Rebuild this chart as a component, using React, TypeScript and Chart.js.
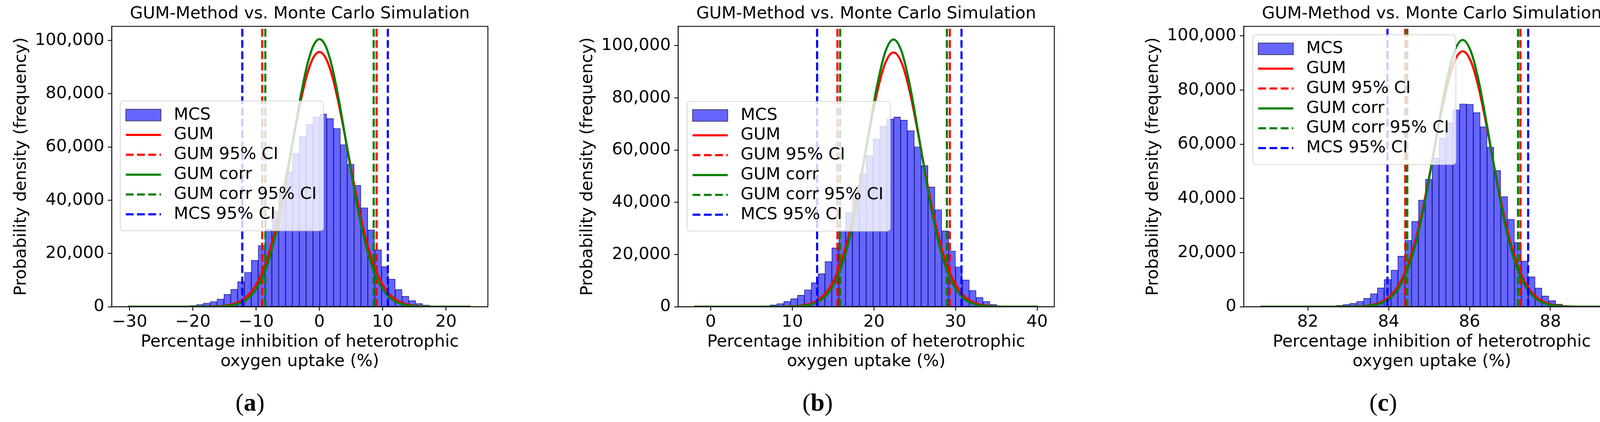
import React, { useEffect, useRef } from 'react';
import { Chart, registerables } from 'chart.js';

Chart.register(...registerables);

const FONT = "'DejaVu Sans', 'Liberation Sans', sans-serif";
const TITLE = 'GUM-Method vs. Monte Carlo Simulation';
const X_LABEL = ['Percentage inhibition of heterotrophic', 'oxygen uptake (%)'];
const Y_LABEL = 'Probability density (frequency)';
const yTicks = [0, 20000, 40000, 60000, 80000, 100000];

// ---- panel (a) ----
const histStartA = -30.27;
const histWidthA = 1.0834;
const countsA = [
  5, 5, 10, 15, 25, 45, 80, 140, 260, 500,
  880, 1390, 1980, 2930, 4680, 6580, 9440, 12950, 17480, 23040,
  29190, 36000, 43200, 50800, 57700, 64000, 68500, 71300, 72400, 70700,
  67000, 60900, 53600, 45600, 37200, 28900, 21400, 15100, 10400, 6510,
  3950, 2340, 1240, 660, 290, 130, 60, 25, 10, 5,
];
const curveXA = [
  -30.27, -24, -20, -18, -16, -14, -13, -12, -11, -10, -9, -8, -7, -6, -5, -4, -3, -2, -1, 0,
  1, 2, 3, 4, 5, 6, 7, 8, 9, 10, 11, 12, 13, 14, 16, 18, 20, 23.9,
];
const gumA = [
  0, 0, 5, 34, 180, 790, 1530, 2820, 4950, 8280, 13200, 20000, 28800, 39700, 51900, 64700, 76800, 86800, 93400, 95700,
  93400, 86800, 76800, 64700, 51900, 39700, 28800, 20000, 13200, 8280, 4950, 2820, 1530, 790, 180, 34, 5, 0,
];
const gumCorrA = [
  0, 0, 0, 15, 90, 480, 1000, 1970, 3700, 6560, 11000, 17500, 26400, 37600, 50800, 64900, 78600, 90100, 97800, 100500,
  97800, 90100, 78600, 64900, 50800, 37600, 26400, 17500, 11000, 6560, 3700, 1970, 1000, 480, 90, 15, 0, 0,
];
const gumCiA = [-9.04, 9.04];
const gumCorrCiA = [-8.55, 8.57];
const mcsCiA = [-12.19, 10.81];
const xLimA = [-32.82, 26.62];
const xTicksA = [-30, -20, -10, 0, 10, 20];
const yMaxA = 105300;

// ---- panel (b) ----
const histStartB = -2.01;
const histWidthB = 0.8424;
const countsB = [
  2, 3, 5, 8, 12, 20, 35, 60, 90, 200,
  420, 720, 1240, 2060, 3090, 4430, 6500, 9280, 12680, 17320,
  22580, 29400, 36100, 43500, 51000, 57900, 64400, 69100, 71900, 72700,
  71500, 67500, 61300, 54100, 45900, 37200, 29100, 21400, 15300, 10300,
  6290, 3610, 2060, 930, 410, 200, 80, 30, 10, 5,
];
const curveXB = [
  -2.01, 6.4, 8.4, 10.4, 11.4, 12.4, 13.4, 14.4, 15.4, 16.4, 17.4, 18.4, 19.4, 20.4, 21.4, 22.4,
  23.4, 24.4, 25.4, 26.4, 27.4, 28.4, 29.4, 30.4, 31.4, 32.4, 33.4, 34.4, 36.4, 40.11,
];
const gumB = [
  0, 0, 25, 220, 590, 1420, 3180, 6520, 12300, 21300, 33900, 49500, 66600, 82300, 93400, 97400,
  93400, 82300, 66600, 49500, 33900, 21300, 12300, 6520, 3180, 1420, 590, 220, 25, 0,
];
const gumCorrB = [
  0, 0, 10, 120, 360, 950, 2320, 5140, 10400, 19000, 31800, 48500, 67200, 84900, 97700, 102400,
  97700, 84900, 67200, 48500, 31800, 19000, 10400, 5140, 2320, 950, 360, 120, 10, 0,
];
const gumCiB = [15.53, 29.3];
const gumCorrCiB = [15.86, 28.94];
const mcsCiB = [13.04, 30.73];
const xLimB = [-3.99, 42.1];
const xTicksB = [0, 10, 20, 30, 40];
const yMaxB = 107400;

// ---- panel (c) ----
const histStartC = 80.83;
const histWidthC = 0.1698;
const countsC = [
  2, 3, 4, 6, 10, 16, 30, 50, 80, 130,
  270, 530, 820, 1300, 2020, 3130, 4810, 6970, 10100, 13560,
  18700, 24470, 31590, 39400, 47100, 54900, 62300, 68000, 72700, 74900,
  74800, 71700, 66500, 58900, 50300, 40700, 32300, 23800, 16900, 11100,
  6950, 4000, 2300, 1000, 500, 200, 80, 30, 10, 5,
];
const curveXC = [
  80.83, 82.23, 82.63, 83.03, 83.43, 83.63, 83.83, 84.03, 84.23, 84.43, 84.63, 84.83, 85.03, 85.23, 85.43, 85.63,
  85.83, 86.03, 86.23, 86.43, 86.63, 86.83, 87.03, 87.23, 87.43, 87.63, 87.83, 88.03, 88.23, 88.63, 89.32,
];
const gumC = [
  0, 0, 0, 40, 320, 800, 1830, 3880, 7580, 13700, 22800, 35200, 50200, 66100, 80600, 90700,
  94300, 90700, 80600, 66100, 50200, 35200, 22800, 13700, 7580, 3880, 1830, 800, 320, 40, 0,
];
const gumCorrC = [
  0, 0, 0, 20, 210, 570, 1390, 3120, 6440, 12200, 21200, 33900, 49800, 67100, 83100, 94400,
  98500, 94400, 83100, 67100, 49800, 33900, 21200, 12200, 6440, 3120, 1390, 570, 210, 20, 0,
];
const gumCiC = [84.41, 87.26];
const gumCorrCiC = [84.46, 87.2];
const mcsCiC = [83.97, 87.45];
const xLimC = [80.415, 89.72];
const xTicksC = [82, 84, 86, 88];
const yMaxC = 103500;

// canvas geometry
const CANVAS_W = 1271;
const CANVAS_H = 960;
const PLOT_LEFT = 280;
const PLOT_TOP = 67.5;
const PLOT_BOTTOM = 785;
const PAD_RIGHT = 28;
const LEGEND_W = 520;
const LEGEND_H = 332;
const LEGEND_ROW0 = 36;
const LEGEND_PITCH = 50.8;

type PanelCfg = {
  left: number;
  tag: string;
  tagX: number;
  histStart: number;
  histWidth: number;
  counts: number[];
  curveX: number[];
  gum: number[];
  gumCorr: number[];
  gumCi: number[];
  gumCorrCi: number[];
  mcsCi: number[];
  xLim: number[];
  xTicks: number[];
  yMax: number;
  legendDx: number;
  legendDy: number;
};

const panels: PanelCfg[] = [
  {
    left: 6.4, tag: 'a', tagX: 640,
    histStart: histStartA, histWidth: histWidthA, counts: countsA,
    curveX: curveXA, gum: gumA, gumCorr: gumCorrA,
    gumCi: gumCiA, gumCorrCi: gumCorrCiA, mcsCi: mcsCiA,
    xLim: xLimA, xTicks: xTicksA, yMax: yMaxA, legendDx: 22, legendDy: 191,
  },
  {
    left: 1455.7, tag: 'b', tagX: 2093,
    histStart: histStartB, histWidth: histWidthB, counts: countsB,
    curveX: curveXB, gum: gumB, gumCorr: gumCorrB,
    gumCi: gumCiB, gumCorrCi: gumCorrCiB, mcsCi: mcsCiB,
    xLim: xLimB, xTicks: xTicksB, yMax: yMaxB, legendDx: 23, legendDy: 192,
  },
  {
    left: 2904, tag: 'c', tagX: 3541,
    histStart: histStartC, histWidth: histWidthC, counts: countsC,
    curveX: curveXC, gum: gumC, gumCorr: gumCorrC,
    gumCi: gumCiC, gumCorrCi: gumCorrCiC, mcsCi: mcsCiC,
    xLim: xLimC, xTicks: xTicksC, yMax: yMaxC, legendDx: 23, legendDy: 21.5,
  },
];

const DASH = [20, 8.8];
const LW = 5.5;

// two axvlines in one dataset, split by a null point
const ciLines = (ci: number[], yMax: number) => [
  { x: ci[0], y: 0 },
  { x: ci[0], y: yMax },
  { x: (ci[0] + ci[1]) / 2, y: null },
  { x: ci[1], y: 0 },
  { x: ci[1], y: yMax },
];

const overlayPlugin = (cfg: PanelCfg) => ({
  id: 'overlay',
  afterDraw(chart: any) {
    const { ctx, chartArea } = chart;
    const { left, top, right, bottom } = chartArea;
    ctx.save();

    // frame (all four spines)
    ctx.strokeStyle = '#000';
    ctx.lineWidth = 2.2;
    ctx.strokeRect(left, top, right - left, bottom - top);

    // title
    ctx.fillStyle = '#000';
    ctx.font = `43px ${FONT}`;
    ctx.textAlign = 'center';
    ctx.textBaseline = 'middle';
    ctx.fillText(TITLE, (left + right) / 2, 36);

    // legend
    const lx = left + cfg.legendDx;
    const ly = top + cfg.legendDy;
    ctx.beginPath();
    ctx.roundRect(lx, ly, LEGEND_W, LEGEND_H, 8);
    ctx.fillStyle = 'rgba(255,255,255,0.8)';
    ctx.fill();
    ctx.strokeStyle = 'rgba(204,204,204,0.8)';
    ctx.lineWidth = 2;
    ctx.stroke();

    chart.data.datasets.forEach((ds: any, i: number) => {
      const cy = ly + LEGEND_ROW0 + i * LEGEND_PITCH;
      if (ds.type === 'bar') {
        ctx.fillStyle = ds.backgroundColor;
        ctx.fillRect(lx + 14, cy - 15, 90, 30);
        ctx.strokeStyle = 'rgba(0,0,0,0.6)';
        ctx.lineWidth = 2;
        ctx.strokeRect(lx + 14, cy - 15, 90, 30);
      } else {
        ctx.beginPath();
        ctx.setLineDash(ds.borderDash || []);
        ctx.strokeStyle = ds.borderColor;
        ctx.lineWidth = LW;
        ctx.moveTo(lx + 14, cy);
        ctx.lineTo(lx + 104, cy);
        ctx.stroke();
        ctx.setLineDash([]);
      }
      ctx.fillStyle = '#000';
      ctx.font = `43px ${FONT}`;
      ctx.textAlign = 'left';
      ctx.textBaseline = 'middle';
      ctx.fillText(ds.label, lx + 137, cy);
    });
    ctx.restore();
  },
});

const fmtX = (v: number) => {
  const r = Math.round(v * 100) / 100;
  return r < 0 ? '\u2212' + Math.abs(r) : String(r);
};

const buildConfig = (cfg: PanelCfg): any => {
  const hist = cfg.counts.map((c, i) => ({ x: cfg.histStart + (i + 0.5) * cfg.histWidth, y: c }));
  const gum = cfg.curveX.map((x, i) => ({ x, y: cfg.gum[i] }));
  const gumCorr = cfg.curveX.map((x, i) => ({ x, y: cfg.gumCorr[i] }));
  const line = { type: 'line', pointRadius: 0, borderWidth: LW, fill: false, cubicInterpolationMode: 'monotone' };
  return {
    type: 'bar',
    data: {
      datasets: [
        {
          type: 'bar', label: 'MCS', data: hist,
          backgroundColor: 'rgba(0,0,255,0.6)', borderColor: '#29296a', borderWidth: 1,
          borderSkipped: false, barPercentage: 1, categoryPercentage: 1, order: 6,
        },
        { ...line, label: 'GUM', data: gum, borderColor: '#ff0000', order: 5 },
        { ...line, label: 'GUM 95% CI', data: ciLines(cfg.gumCi, cfg.yMax), borderColor: '#ff0000', borderDash: DASH, order: 4 },
        { ...line, label: 'GUM corr', data: gumCorr, borderColor: '#008000', order: 3 },
        { ...line, label: 'GUM corr 95% CI', data: ciLines(cfg.gumCorrCi, cfg.yMax), borderColor: '#008000', borderDash: DASH, order: 2 },
        { ...line, label: 'MCS 95% CI', data: ciLines(cfg.mcsCi, cfg.yMax), borderColor: '#0000ff', borderDash: DASH, order: 1 },
      ],
    },
    options: {
      animation: false,
      responsive: false,
      devicePixelRatio: 1,
      events: [],
      layout: { padding: { top: PLOT_TOP, right: PAD_RIGHT, bottom: 0, left: 0 } },
      plugins: { legend: { display: false }, tooltip: { enabled: false }, title: { display: false } },
      scales: {
        x: {
          type: 'linear',
          min: cfg.xLim[0],
          max: cfg.xLim[1],
          offset: false,
          afterBuildTicks: (s: any) => { s.ticks = cfg.xTicks.map((value) => ({ value })); },
          afterFit: (s: any) => { s.height = CANVAS_H - PLOT_BOTTOM; },
          grid: { offset: false, drawOnChartArea: false, drawTicks: true, tickLength: 10, tickWidth: 2.2, tickColor: '#000' },
          border: { display: true, color: '#000', width: 2.2 },
          ticks: {
            autoSkip: false, maxRotation: 0, padding: 4,
            color: '#000', font: { family: FONT, size: 43 }, callback: (v: any) => fmtX(Number(v)),
          },
          title: {
            display: true, text: X_LABEL, color: '#000',
            font: { family: FONT, size: 43, lineHeight: 50 / 43 }, padding: { top: 0, bottom: 9 },
          },
        },
        y: {
          type: 'linear',
          min: 0,
          max: cfg.yMax,
          afterBuildTicks: (s: any) => { s.ticks = yTicks.map((value) => ({ value })); },
          afterFit: (s: any) => { s.width = PLOT_LEFT; },
          grid: { drawOnChartArea: false, drawTicks: true, tickLength: 10, tickWidth: 2.2, tickColor: '#000' },
          border: { display: true, color: '#000', width: 2.2 },
          ticks: {
            autoSkip: false, padding: 9,
            color: '#000', font: { family: FONT, size: 43 },
            callback: (v: any) => Number(v).toLocaleString('en-US'),
          },
          title: {
            display: true, text: Y_LABEL, color: '#000',
            font: { family: FONT, size: 43, lineHeight: 50 / 43 }, padding: { top: 24, bottom: 0 },
          },
        },
      },
    },
    plugins: [overlayPlugin(cfg)],
  };
};

const PanelChart = ({ cfg }: { cfg: PanelCfg }) => {
  const chartRef = useRef<HTMLCanvasElement>(null);

  useEffect(() => {
    if (!chartRef.current) return;
    const chart = new Chart(chartRef.current, buildConfig(cfg));
    return () => {
      chart.destroy();
    };
  }, [cfg]);

  return (
    <canvas
      ref={chartRef}
      width={CANVAS_W}
      height={CANVAS_H}
      style={{ position: 'absolute', left: cfg.left, top: 0, width: CANVAS_W, height: CANVAS_H }}
    />
  );
};

const App = () => {
  return (
    <div
      style={{
        position: 'absolute', left: 0, top: 0, width: 4175, height: 1080,
        background: '#fff', overflow: 'hidden',
      }}
    >
      {panels.map((p) => (
        <React.Fragment key={p.tag}>
          <PanelChart cfg={p} />
          <div
            style={{
              position: 'absolute', left: p.tagX, top: 1030, transform: 'translate(-50%, -50%)',
              fontFamily: "'Liberation Serif', 'DejaVu Serif', serif", fontSize: 64, lineHeight: 1, color: '#000',
            }}
          >
            (<b>{p.tag}</b>)
          </div>
        </React.Fragment>
      ))}
    </div>
  );
};

export default App;
